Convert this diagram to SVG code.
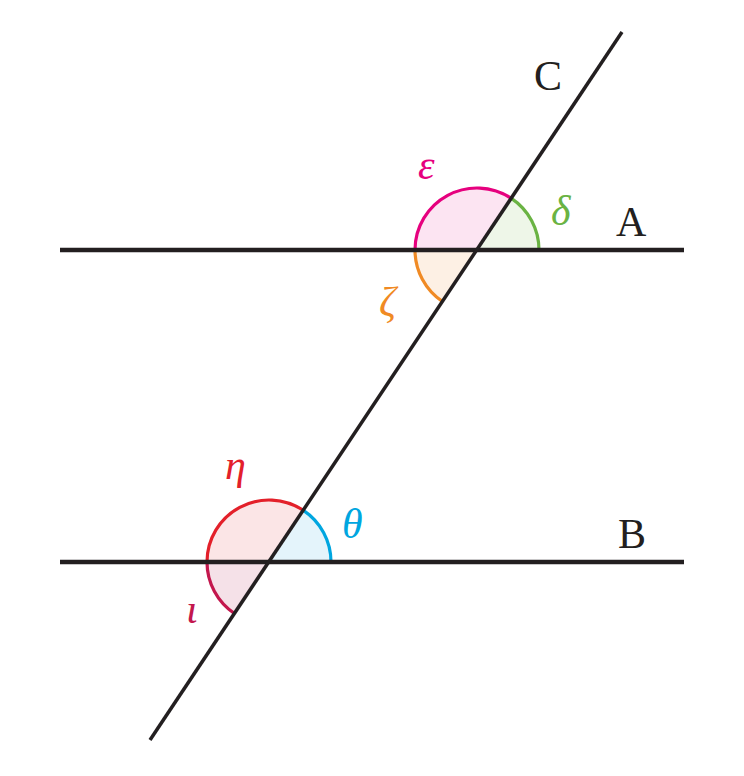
<svg xmlns="http://www.w3.org/2000/svg" width="744" height="776" viewBox="0 0 744 776">
<style>
.ln{stroke:#231f20;fill:none}
.arc{stroke-width:3.2}
.lbl{font-family:"Liberation Serif","DejaVu Serif",serif;font-size:42px;fill:#231f20}
.gr{font-family:"Liberation Serif","DejaVu Serif",serif;font-size:42px;font-style:italic}
</style>
<rect width="744" height="776" fill="#fff"/>
<g id="angles-A">
<path id="delta" d="M477,250 L539,250 A62,62 0 0 0 511.4,198.4 Z" fill="#eef6e8" stroke="none"/>
<path d="M539,250 A62,62 0 0 0 511.4,198.4" fill="none" stroke="#6ab343" class="arc"/>
<path id="epsilon" d="M477,250 L511.4,198.4 A62,62 0 0 0 415,250 Z" fill="#fce4f2" stroke="none"/>
<path d="M511.4,198.4 A62,62 0 0 0 415,250" fill="none" stroke="#e6007e" class="arc"/>
<path id="zeta" d="M477,250 L415,250 A62,62 0 0 0 442.6,301.6 Z" fill="#fdf0e4" stroke="none"/>
<path d="M415,250 A62,62 0 0 0 442.6,301.6" fill="none" stroke="#f08a24" class="arc"/>
</g>
<g id="angles-B">
<path id="theta" d="M269,562 L331,562 A62,62 0 0 0 303.4,510.4 Z" fill="#e4f4fb" stroke="none"/>
<path d="M331,562 A62,62 0 0 0 303.4,510.4" fill="none" stroke="#00a6e0" class="arc"/>
<path id="eta" d="M269,562 L303.4,510.4 A62,62 0 0 0 207,562 Z" fill="#fbe5e6" stroke="none"/>
<path d="M303.4,510.4 A62,62 0 0 0 207,562" fill="none" stroke="#e3202a" class="arc"/>
<path id="iota" d="M269,562 L207,562 A62,62 0 0 0 234.6,613.6 Z" fill="#f5e1e8" stroke="none"/>
<path d="M207,562 A62,62 0 0 0 234.6,613.6" fill="none" stroke="#c3174d" class="arc"/>
</g>
<g id="connectors">
<line id="lineA" class="ln" x1="60" y1="250" x2="684" y2="250" stroke-width="4.5"/>
<line id="lineB" class="ln" x1="60" y1="562" x2="684" y2="562" stroke-width="4.5"/>
<line id="lineC" class="ln" x1="622" y1="32" x2="150" y2="740" stroke-width="3.5"/>
</g>
<g id="labels">
<text class="lbl" x="534" y="90">C</text>
<text class="lbl" x="616" y="236">A</text>
<text class="lbl" x="618" y="548">B</text>
<text class="gr" x="418" y="179" fill="#e6007e">ε</text>
<text class="gr" x="551" y="225" fill="#6ab343">δ</text>
<text class="gr" x="379" y="316" fill="#f08a24">ζ</text>
<text class="gr" x="225" y="479" fill="#e3202a">η</text>
<text class="gr" x="342" y="538" fill="#00a6e0">θ</text>
<text class="gr" x="186" y="623" fill="#c3174d">ι</text>
</g>
</svg>
